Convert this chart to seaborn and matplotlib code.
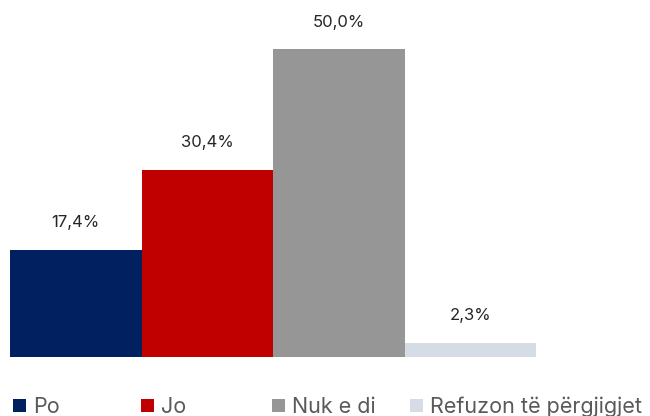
import matplotlib
matplotlib.use("Agg")
import matplotlib.pyplot as plt
import matplotlib.patches as mpatches
import seaborn as sns

categories = ["Po", "Jo", "Nuk e di", "Refuzon të përgjigjet"]
values = [17.4, 30.4, 50.0, 2.3]
colors = ["#002060", "#C00000", "#969696", "#D6DCE5"]
value_labels = ["17,4%", "30,4%", "50,0%", "2,3%"]

sns.set_theme(style="white")
plt.rcParams["font.family"] = ["Inter", "DejaVu Sans"]

fig = plt.figure(figsize=(6.5, 4.16), dpi=100)
# axes spans bar area: x 10..536 px, baseline y=357, 50% at y=49
ax = fig.add_axes([10 / 650, 59 / 416, 526 / 650, 308 / 416])

sns.barplot(x=categories, y=values, hue=categories, palette=colors,
            width=1.0, legend=False, ax=ax, saturation=1, linewidth=0)
ax.set_xlim(-0.5, 3.5)
ax.set_ylim(0, 50)
for container, lab in zip(ax.containers, value_labels):
    ax.bar_label(container, labels=[lab], padding=14, fontsize=12,
                 color="#262626", clip_on=False)

ax.set_axis_off()

# legend items, one per category, placed under the bars
legend_x = [13, 141, 272, 410]
for cat, col, x in zip(categories, colors, legend_x):
    h = mpatches.Patch(color=col, label=cat, linewidth=0)
    fig.legend(handles=[h], loc="center left",
               bbox_to_anchor=(x / 650, 1 - 407 / 416),
               frameon=False, fontsize=15.5, labelcolor="#595959",
               handlelength=0.6, handleheight=0.6, handletextpad=0.35,
               borderpad=0, borderaxespad=0)

fig.savefig("out.png", dpi=100)
